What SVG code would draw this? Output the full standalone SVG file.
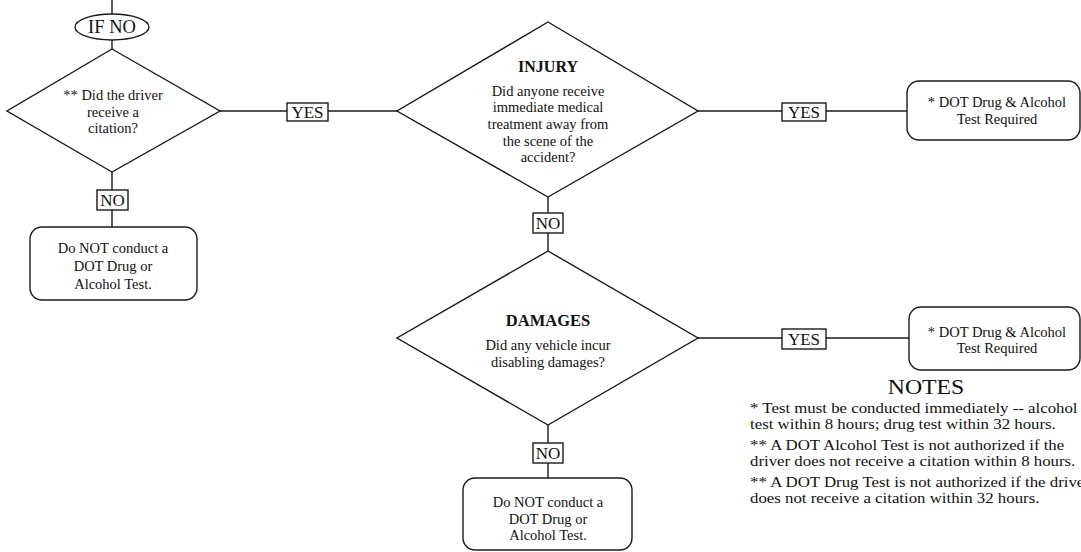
<svg xmlns="http://www.w3.org/2000/svg" width="1081" height="552" viewBox="0 0 1081 552">
<style>
.s{fill:#fff;stroke:#1a1a1a;stroke-width:1.4}
.c{stroke:#1a1a1a;stroke-width:1.4;fill:none}
text{font-family:"Liberation Serif","Times New Roman",serif;fill:#111}
.t{font-size:14.5px;text-anchor:middle}
.b{font-size:16px;font-weight:bold;text-anchor:middle}
.l{font-size:17px;text-anchor:middle}
.n{font-size:14.5px}
</style>
<rect width="1081" height="552" fill="#fff"/>
<g id="connectors">
<line class="c" x1="112" y1="0" x2="112" y2="14"/>
<line class="c" x1="112" y1="40" x2="112" y2="49"/>
<line class="c" x1="220" y1="111" x2="397" y2="111"/>
<line class="c" x1="112" y1="172" x2="112" y2="227"/>
<line class="c" x1="698" y1="111" x2="907" y2="111"/>
<line class="c" x1="548" y1="197" x2="548" y2="251"/>
<line class="c" x1="698" y1="338" x2="909" y2="338"/>
<line class="c" x1="548" y1="425" x2="548" y2="478"/>
</g>
<g id="ifno">
<ellipse class="s" cx="112" cy="27" rx="37" ry="13"/>
<text class="l" x="112" y="33" style="font-size:18.5px">IF NO</text>
</g>
<g id="citation">
<polygon class="s" points="112,49 220,111 112,172 7,111"/>
<text class="t" x="113" y="100">** Did the driver</text>
<text class="t" x="113" y="117">receive a</text>
<text class="t" x="113" y="133">citation?</text>
</g>
<g id="yes1">
<rect class="s" x="287" y="103" width="41" height="18"/>
<text class="l" x="307.5" y="118">YES</text>
</g>
<g id="no1">
<rect class="s" x="97" y="190" width="31" height="20"/>
<text class="l" x="112.5" y="206">NO</text>
</g>
<g id="notest1">
<rect class="s" x="30" y="227" width="167" height="73" rx="12"/>
<text class="t" x="113" y="253">Do NOT conduct a</text>
<text class="t" x="113" y="271">DOT Drug or</text>
<text class="t" x="113" y="289">Alcohol Test.</text>
</g>
<g id="injury">
<polygon class="s" points="548,22 698,111 548,197 397,111"/>
<text class="b" x="548" y="72">INJURY</text>
<text class="t" x="548" y="96">Did anyone receive</text>
<text class="t" x="548" y="112">immediate medical</text>
<text class="t" x="548" y="129">treatment away from</text>
<text class="t" x="548" y="146">the scene of the</text>
<text class="t" x="548" y="162">accident?</text>
</g>
<g id="yes2">
<rect class="s" x="782" y="103" width="44" height="18"/>
<text class="l" x="804" y="118">YES</text>
</g>
<g id="test1">
<rect class="s" x="907" y="81" width="173" height="59" rx="12"/>
<text class="t" x="997" y="107">* DOT Drug &amp; Alcohol</text>
<text class="t" x="997" y="124">Test Required</text>
</g>
<g id="no2">
<rect class="s" x="533" y="213" width="30" height="20"/>
<text class="l" x="548" y="229">NO</text>
</g>
<g id="damages">
<polygon class="s" points="548,251 698,338 548,425 397,338"/>
<text class="b" x="548" y="326" style="font-size:16.5px">DAMAGES</text>
<text class="t" x="548" y="350">Did any vehicle incur</text>
<text class="t" x="548" y="367">disabling damages?</text>
</g>
<g id="yes3">
<rect class="s" x="782" y="329" width="44" height="20"/>
<text class="l" x="804" y="345">YES</text>
</g>
<g id="test2">
<rect class="s" x="909" y="307" width="171" height="63" rx="12"/>
<text class="t" x="997" y="337">* DOT Drug &amp; Alcohol</text>
<text class="t" x="997" y="353">Test Required</text>
</g>
<g id="no3">
<rect class="s" x="533" y="443" width="30" height="20"/>
<text class="l" x="548" y="459">NO</text>
</g>
<g id="notest2">
<rect class="s" x="463" y="478" width="169" height="72" rx="12"/>
<text class="t" x="548" y="507">Do NOT conduct a</text>
<text class="t" x="548" y="524">DOT Drug or</text>
<text class="t" x="548" y="540">Alcohol Test.</text>
</g>
<g id="notesgrp">
<g transform="scale(1.16,1)">
<text x="798.3" y="394" style="font-size:20.5px;text-anchor:middle">NOTES</text>
<text class="n" x="646.6" y="413">* Test must be conducted immediately -- alcohol</text>
<text class="n" x="646.6" y="429">test within 8 hours; drug test within 32 hours.</text>
<text class="n" x="646.6" y="450">** A DOT Alcohol Test is not authorized if the</text>
<text class="n" x="646.6" y="466">driver does not receive a citation within 8 hours.</text>
<text class="n" x="646.6" y="487">** A DOT Drug Test is not authorized if the driver</text>
<text class="n" x="646.6" y="503">does not receive a citation within 32 hours.</text>
</g>
</g>
</svg>
